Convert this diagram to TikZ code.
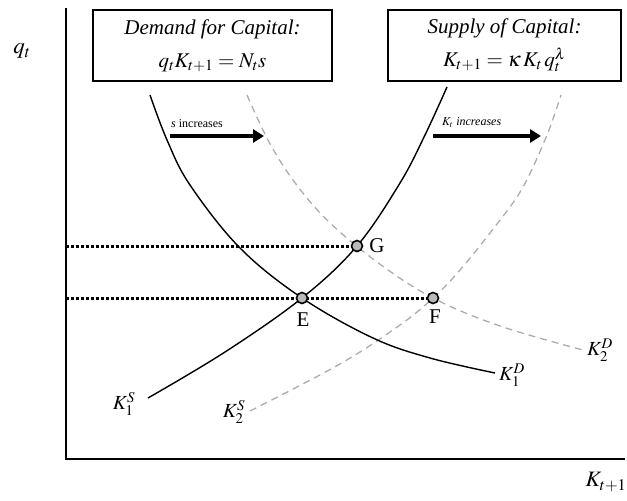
\documentclass[tikz,border=0pt]{standalone}
\usepackage{mathptmx}
\usepackage{fontspec}
\setmainfont{Liberation Serif}
\usetikzlibrary{arrows.meta}
\begin{document}
\begin{tikzpicture}[x=1pt,y=-1pt,
  eqbox/.style={draw, line width=1.5pt, inner sep=0pt, minimum height=71pt, align=center,
    font=\fontsize{21}{33}\selectfont\itshape},
  solidcurve/.style={line width=1.4pt, black},
  dashcurve/.style={line width=1.3pt, gray!65, dash pattern=on 7pt off 5pt},
  eqpt/.style={circle, draw, line width=1.6pt, fill=gray!55, minimum size=11pt, inner sep=0pt},
  ptlabel/.style={font=\fontsize{21}{24}\selectfont},
  curvelabel/.style={font=\fontsize{20}{22}\selectfont, inner sep=1pt},
  shiftarrow/.style={line width=3.5pt, -{Triangle[length=11pt,width=13pt]}},
  shifttext/.style={font=\fontsize{12}{14}\selectfont, inner sep=1pt},
  dottedline/.style={line width=3pt, dash pattern=on 2.6pt off 2.4pt},
  axisline/.style={line width=1.5pt}]
\useasboundingbox (0,0) rectangle (627,501);

% axes
\coordinate (ytop) at (66,8);
\coordinate (orig) at (66,459);
\coordinate (xend) at (625,459);
\draw[axisline] (ytop) -- (orig) -- (xend);
\node[font=\fontsize{23}{24}\selectfont] (qlab) at (22,51) {$q_t$};
\node[font=\fontsize{22}{24}\selectfont] (klab) at (606,482) {$K_{t+1}$};

% boxes
\node[eqbox, minimum width=239pt] (dbox) at (212.5,45.5) {Demand for Capital:\\ $q_tK_{t+1} = N_t s$};
\node[eqbox, minimum width=233pt] (sbox) at (504.5,45.5) {Supply of Capital:\\ $K_{t+1} = \kappa\,K_t\,q_t^{\lambda}$};

% equilibrium positions
\coordinate (pE) at (302,298);
\coordinate (pF) at (433,298);
\coordinate (pG) at (357,246);
\coordinate (aG) at (66,246);
\coordinate (aF) at (66,298);

% dotted lines
\draw[dottedline] (aG) -- (pG);
\draw[dottedline] (aF) -- (pF);

% curves
\draw[dashcurve] plot[smooth, tension=0.6] coordinates {(247,95) (268,140) (293,180) (327,220) (377,262) (433,298) (500,326) (583,350)};
\draw[dashcurve] plot[smooth, tension=0.6] coordinates {(250,411) (340,364) (400,325) (433,298) (460,270) (497,224) (523,187) (547,135) (561,95)};
\draw[solidcurve] plot[smooth, tension=0.6] coordinates {(150,95) (167,140) (190,185) (240,248) (302,298) (373,338) (430,358) (495,373)};
\draw[solidcurve] plot[smooth, tension=0.6] coordinates {(148,398) (225,352) (302,298) (357,246) (400,183) (425,135) (447,87)};

% points
\node[eqpt] (E) at (pE) {};
\node[eqpt] (F) at (pF) {};
\node[eqpt] (G) at (pG) {};
\node[ptlabel] (Elab) at (303,320) {E};
\node[ptlabel] (Flab) at (435,317) {F};
\node[ptlabel] (Glab) at (377,246) {G};

% curve labels
\node[curvelabel] (kd1) at (512,375) {$K^D_1$};
\node[curvelabel] (kd2) at (600,350) {$K^D_2$};
\node[curvelabel] (ks1) at (124,404) {$K^S_1$};
\node[curvelabel] (ks2) at (234,412) {$K^S_2$};

% shift arrows
\coordinate (a1s) at (170,136);
\coordinate (a1e) at (264,136);
\coordinate (a2s) at (433,136);
\coordinate (a2e) at (541,136);
\draw[shiftarrow] (a1s) -- (a1e);
\draw[shiftarrow] (a2s) -- (a2e);
\node[shifttext, anchor=south west] (t1) at (170,129) {\textit{s} increases};
\node[shifttext, anchor=south west] (t2) at (441,129) {\textit{$K_t$ increases}};
\end{tikzpicture}
\end{document}
